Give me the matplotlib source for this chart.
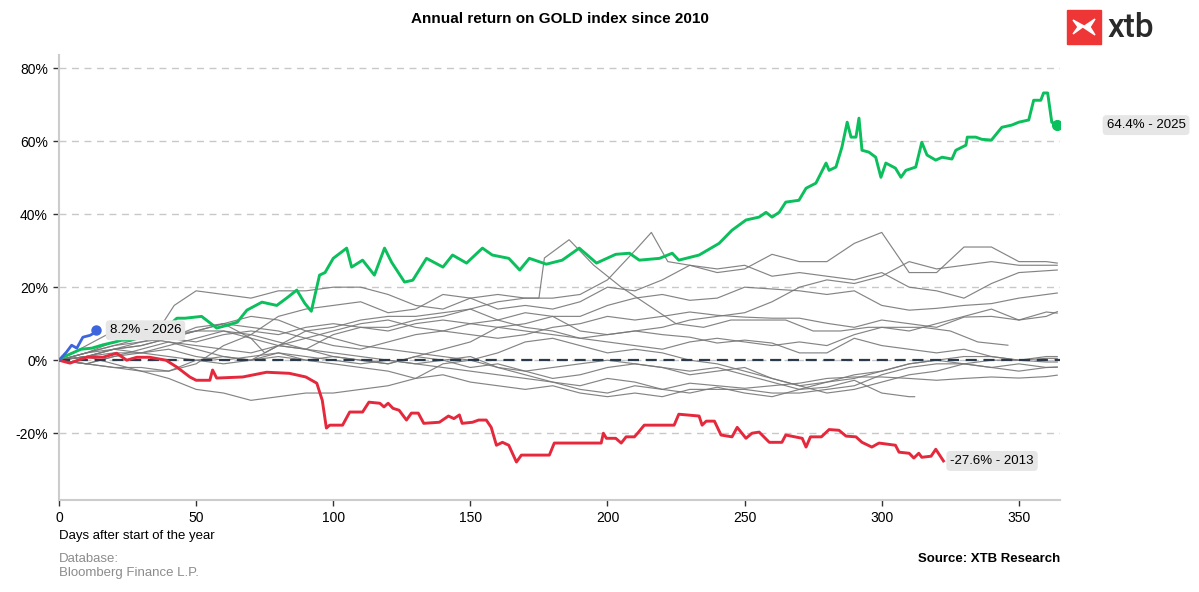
import matplotlib
matplotlib.use("Agg")
import matplotlib.pyplot as plt
from matplotlib.patches import Rectangle, Polygon
from matplotlib.ticker import FuncFormatter

plt.rcParams["font.family"] = ["Liberation Sans", "DejaVu Sans"]

# ---- highlighted years ----
days_2025 = [0, 2, 5, 8, 12, 16, 20, 23, 26, 30, 35, 40, 43, 46, 52,
             57.5, 61, 65, 68.5, 74, 79.4, 83, 86.7, 89.6, 92, 95, 97, 100, 104.9, 106.7,
             110.7, 115, 118.7, 121.3, 126, 129, 134, 140, 143.5, 148.6, 154.4, 158, 164, 168, 171.5,
             177.7, 183.5, 189.7, 196, 203, 208, 211.6, 219, 223.6, 226, 233.4, 240.7, 245.4, 250.5, 255.3,
             257.8, 260, 262.6, 265, 269.8, 272.4, 276, 279.7, 280.8, 283.3, 285.5, 287.4, 288.8, 290.6, 291.7,
             292.8, 295.3, 297.8, 299.7, 301.5, 305, 307, 308.8, 312.4, 314.6, 316.5, 319.7, 322, 325.6, 327,
             330.7, 331.2, 334.3, 336.5, 340, 343.8, 347.4, 350, 353.6, 355.4, 358, 359, 360.5, 362, 363.8]
ret_2025 = [0, 1, 2, 3, 3.3, 4.2, 4.9, 5.5, 5.5, 6.5, 8, 9.5, 11.5, 11.5, 12,
            8.8, 9.5, 10.4, 13.7, 15.9, 15, 17, 19.2, 15.6, 13.4, 23.3, 24, 27.9, 30.7, 25.5,
            27.4, 23.3, 30.7, 26.8, 21.4, 21.9, 27.9, 25.5, 28.8, 26.6, 30.7, 28.8, 27.9, 24.7, 27.9,
            26.3, 27.4, 30.7, 26.6, 29, 29.3, 27.4, 27.9, 29.3, 27.4, 28.8, 32, 35.6, 38.4, 39.2,
            40.5, 39.2, 40.5, 43.3, 43.8, 47.1, 48.5, 54, 52, 52.9, 58.4, 65.2, 61.1, 61.1, 66.3,
            57.5, 57, 55.6, 50.1, 54, 52.6, 50.1, 52, 52.9, 59.7, 56.2, 54.8, 55.6, 55.1, 57.5,
            58.9, 61.1, 61.1, 60.5, 60.3, 63.8, 64.4, 65.2, 65.8, 71.2, 71.2, 73.2, 73.2, 65.2, 64.4]

days_2013 = [0, 4, 10, 16, 21, 24.7, 28.4, 33, 39, 43, 47.7, 50, 55, 56, 57.5,
             67, 75.7, 84, 90, 94, 96, 97.5, 98.7, 103.4, 106, 110.7, 113, 117, 118.5, 120,
             121.8, 124, 126.7, 128.5, 131, 133, 138.7, 142, 144, 146, 147, 150.8, 153, 155.8, 157.6,
             159.5, 161.7, 164, 166.8, 168.6, 178.8, 180.6, 197.7, 198.5, 199.6, 203, 205, 206.8, 209.8, 211,
             213.4, 224.3, 226, 233.4, 234.5, 236, 239, 241.4, 245.4, 247.3, 250.5, 252.7, 255.3, 259, 263.6,
             265, 271, 272.4, 274, 278, 280.8, 284.4, 287, 290.6, 292.8, 296.4, 299, 305, 306.3, 310,
             311.7, 313.5, 314.6, 318, 319.7, 322.5]
ret_2013 = [0, -0.8, 0.8, 0.8, 1.9, 0, 0.8, 0.8, 0, -1.9, -4.6, -5.5, -5.5, -2.7, -4.9,
            -4.6, -3.3, -3.6, -4.6, -6.3, -11, -18.6, -17.8, -17.8, -14.2, -14.2, -11.5, -11.8, -12.8, -11.8,
            -13.2, -13.7, -16.4, -14.5, -14.5, -17.3, -17, -15.3, -16, -15, -17.3, -17, -16.4, -16.4, -18.4,
            -23.3, -22.5, -23.3, -27.9, -26, -26, -22.7, -22.7, -20, -21.4, -21.4, -22.7, -21, -21, -20,
            -17.8, -17.8, -14.8, -15.3, -17.8, -16.7, -16.7, -20.5, -21, -18.4, -21.4, -20, -19.7, -22.5, -22.5,
            -20.5, -21.4, -23.8, -21, -21, -19, -19.2, -20.8, -21, -22.5, -23.8, -22.7, -23.3, -25.2, -25.5,
            -26.8, -25.5, -26.6, -26.3, -24.4, -27.6]

days_2026 = [0, 2.7, 4.6, 6.5, 8.7, 11.3, 12.5, 13.6]
ret_2026 = [0, 2.2, 4.1, 3.3, 6.3, 6.8, 7.3, 8.2]

# ---- other years (grey), sampled every 10 days ----
std_days = list(range(0, 361, 10)) + [364]
ret_2010 = [0, 1, -1, -3, -3, 0, 1, 0, 4, 3, 7, 9, 9, 11, 12, 14, 11, 13, 12, 8,
            7, 8, 9, 11, 12, 13, 16, 20, 22, 21, 23, 27, 25, 26, 27, 26, 26, 26]
ret_2011 = [0, -1, 1, 2, 4, 6, 8, 7, 5, 3, 1, 0, -1, 1, 0, -2, -1, -3, -5, -4,
            -2, -1, -2, -4, -3, -2, -5, -7, -6, -5, -3, -1, 0, 1, 1, 0, 0.5, 0.5]
ret_2012 = [0, 1, 3, 4, 6, 5, 7, 8, 7, 9, 10, 9, 8, 10, 11, 10, 9, 8, 7, 6,
            7, 8, 7, 6.3, 4.7, 5.5, 4.7, 2, 2, 6, 4, 3, 2, 3, 1, 0, 1, 1]
ret_2014 = [0, 1, 3, 5, 7, 8, 10, 12, 11, 8, 6, 4, 3, 2, 1, 0, 2, 5, 6, 4,
            2, 3, 2, 0, -1, -3, -5, -7, -9, -8, -6, -4, -3, -1, -2, -3, -2, -1.9]
ret_2017 = [0, -1, 1, 3, 5, 4, 3, 2, 4, 6, 8, 10, 11, 9, 8, 10, 11, 9, 8, 6,
            5, 4, 3, 5, 6, 5, 4, 5, 4, 7, 9, 8, 10, 12, 14, 11, 12, 13.3]
ret_2018 = [0, 1, 3, 2, 1, 0, -1, 0, 1, 0, -1, -2, -3, -5, -4, -6, -7, -8, -7, -9,
            -10, -9, -10, -8, -8, -8, -9, -9, -8, -7, -4, -2, -1, -1, -2, -1, -2, -1.9]
ret_2019 = [0, 1, 2, 2, 3, 1, 0, 1, 2, 0, 1, 0, -1, 1, 3, 5, 9, 10, 12, 12,
            15, 17, 18, 16.4, 17, 20, 19.5, 19, 18, 19, 15, 13.7, 14.2, 15, 15.5, 17, 18, 18.4]
ret_2021 = [0, -1, -2, -3, -5, -8, -9, -11, -10, -9, -9, -8, -7, -5, -1, 0, -2, -4, -6, -7,
            -5, -6, -8, -6.3, -7, -7.7, -7, -6.3, -5, -4.6, -4.6, -5, -5.5, -5, -4.6, -4.9, -4.5, -4.1]
ret_2022 = [0, 2, 4, 5, 6, 8, 8, 6, 4, 3, 2, 1, 0, -1, 0, 1, -2, -3, -2, -1,
            0, -1, -2, -3, -2, -4, -6, -8, -6, -4, -3, -1, 0, -1, 0, 0, -0.5, -0.5]
ret_2023 = [0, 2, 5, 7, 6, 8, 10, 9, 8, 6, 4, 3, 5, 7, 8, 7, 6, 7, 9, 10,
            12, 11, 12, 13.2, 12.3, 11.8, 11.5, 11.5, 10.1, 9, 11, 10, 9, 11.8, 12, 11, 13.2, 12.9]
ret_2024 = [0, -1, -2, -2, -3, -1, 4, 7, 12, 14, 15, 16, 13, 14, 18, 17, 14, 15, 14, 16,
            20, 19, 22, 26, 24, 25, 29, 27, 27, 32, 35, 24, 24, 31, 31, 27, 27, 26.6]

days_2015 = list(range(0, 311, 10)) + [312]
ret_2015 = [0, 4, 8, 6, 5, 3, 1, 0, 2, 1, 0, -1, 0, -1, -2, -3, -4, -5, -6, -8,
            -9, -7, -8, -9, -7.4, -9, -10, -8, -7.4, -5.5, -9, -10, -10]

days_2016 = [0, 10, 20, 30, 36, 42, 50, 60, 70, 80, 90, 100, 110, 120, 130, 140, 150, 160, 170, 175,
             177, 186, 195, 205, 215, 225, 235, 245, 255, 265, 275, 285, 295, 305, 315, 325, 335, 346]
ret_2016 = [0, 2, 4, 6, 8, 15, 19, 18, 17, 19, 19, 20, 20, 18, 15, 14, 17, 18, 17, 17,
            28, 33, 26, 20, 15, 10, 9, 11, 11, 11, 8, 8, 9, 9, 9, 8, 5, 4.1]

days_2020 = [0, 10, 20, 30, 40, 50, 60, 70, 75, 80, 90, 100, 110, 120, 130, 140, 150, 160, 170, 180,
             190, 200, 210, 216, 222, 230, 240, 250, 260, 270, 280, 290, 300, 310, 320, 330, 340, 350, 364]
ret_2020 = [0, 2, 3, 4, 6, 9, 10, 6, 2, 4, 8, 9, 11, 12, 12, 13, 14, 16, 17, 17,
            18, 22, 30, 35, 27, 26, 25, 26, 23, 24, 23, 22, 24, 20, 19, 17, 21, 24, 24.7]

grey_lines = [
    (std_days, ret_2010), (std_days, ret_2011), (std_days, ret_2012),
    (std_days, ret_2014), (days_2015, ret_2015), (days_2016, ret_2016),
    (std_days, ret_2017), (std_days, ret_2018), (std_days, ret_2019),
    (days_2020, ret_2020), (std_days, ret_2021), (std_days, ret_2022),
    (std_days, ret_2023), (std_days, ret_2024),
]

W, H = 1199, 592
fig = plt.figure(figsize=(W / 100, H / 100), dpi=100)
ax = fig.add_axes([59 / W, 1 - 500 / H, (1060 - 59) / W, (500 - 55) / H])

for d, r in grey_lines:
    ax.plot(d, r, color="#777777", lw=0.85, alpha=0.9, zorder=2)

ax.axhline(0, color="#2b3a4a", ls=(0, (5, 3)), lw=1.6, zorder=3)

ax.plot(days_2025, ret_2025, color="#0abf5c", lw=2.1, zorder=4)
ax.plot(days_2013, ret_2013, color="#e5283c", lw=2.1, zorder=4)
ax.plot(days_2026, ret_2026, color="#3e66dc", lw=2.0, zorder=5)
ax.plot(days_2025[-1], ret_2025[-1], "o", color="#0abf5c", ms=7, zorder=5)
ax.plot(days_2026[-1], ret_2026[-1], "o", color="#3e66dc", ms=6.5, zorder=5)

box = dict(boxstyle="round,pad=0.3", fc="#e6e6e6", ec="none")
ax.text(18.5, ret_2026[-1], f"{ret_2026[-1]}% - 2026", fontsize=9.5, va="center",
        bbox=box, zorder=6)
ax.text(325, ret_2013[-1], f"{ret_2013[-1]}% - 2013", fontsize=9.5, va="center",
        bbox=box, zorder=6)
ax.text(382, ret_2025[-1], f"{ret_2025[-1]}% - 2025", fontsize=9.5, va="center",
        bbox=box, zorder=6, clip_on=False)

ax.set_xlim(0, 365)
ax.set_ylim(-38.3, 83.6)
ax.set_xticks([0, 50, 100, 150, 200, 250, 300, 350])
ax.set_yticks([-20, 0, 20, 40, 60, 80])
ax.yaxis.set_major_formatter(FuncFormatter(lambda v, p: f"{v:.0f}%"))
ax.yaxis.grid(True, ls=(0, (5, 4)), color="#c8c8c8", lw=1)
ax.set_axisbelow(True)
for s in ["top", "right"]:
    ax.spines[s].set_visible(False)
for s in ["left", "bottom"]:
    ax.spines[s].set_color("#cccccc")
    ax.spines[s].set_linewidth(1.5)
ax.tick_params(length=4, width=1, color="#333333", labelsize=10, pad=4)

ax.set_title("Annual return on GOLD index since 2010", fontsize=11, fontweight="bold", pad=23)

fig.text(59 / W, 1 - 536 / H, "Days after start of the year", fontsize=9.5, va="center")
fig.text(59 / W, 1 - 566 / H, "Database:\nBloomberg Finance L.P.", fontsize=9.5,
         va="center", color="#8c8c8c", linespacing=1.3)
fig.text(1060 / W, 1 - 559 / H, "Source: XTB Research", fontsize=9.5, fontweight="bold",
         ha="right", va="center")

# xtb logo
def px(x, y):
    return ((1067 + x) / W, 1 - (10 + y) / H)

fig.add_artist(Rectangle(px(0, 34), 34 / W, 34 / H, transform=fig.transFigure,
                         color="#ee3636"))
fig.add_artist(Polygon([px(6, 10), px(17, 16), px(6, 24), px(11, 17)],
                       closed=True, transform=fig.transFigure, color="white"))
fig.add_artist(Polygon([px(28, 9), px(16, 17), px(28, 25), px(23, 17)],
                       closed=True, transform=fig.transFigure, color="white"))
fig.text(1107 / W, 1 - 28 / H, "xtb", fontsize=24, va="center", color="#2a2a2a",
         family=["Roboto", "DejaVu Sans"], fontweight="medium")

fig.savefig("out.png", dpi=100)
